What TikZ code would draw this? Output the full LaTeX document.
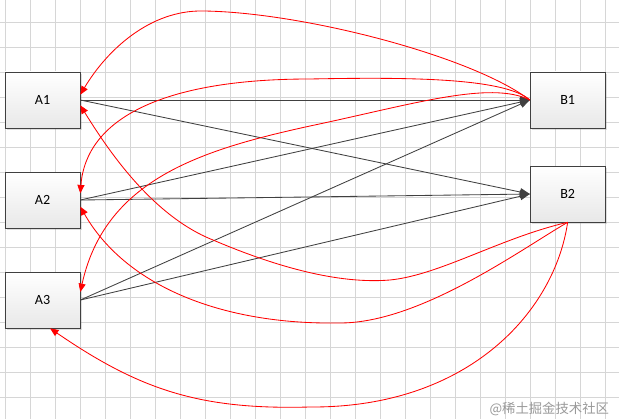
\documentclass[tikz,border=0pt]{standalone}
\usepackage{fontspec}
\setmainfont{Carlito}
\newfontfamily\cjkfont{Noto Sans CJK SC}
\usepackage{tikz}
\usetikzlibrary{arrows,arrows.meta,shapes,shadows}
\usetikzlibrary{positioning}
\definecolor{gridgray}{rgb}{0.84,0.84,0.84}
\definecolor{boxedge}{rgb}{0.25,0.25,0.25}
\tikzstyle{gridline}=[draw=gridgray,line width=0.6pt]
\tikzstyle{Abox}=[draw=boxedge,rectangle,minimum width=1.875cm,minimum height=1.4cm,inner sep=0,
                top color=white,bottom color=black!9,
                drop shadow={opacity=0.25,shadow xshift=1.5pt,shadow yshift=-1.5pt},
                font=\fontsize{10}{12}\selectfont]
\tikzstyle{aL}=[every edge/.style={draw=boxedge,line width=0.6pt,-{Triangle[length=7pt,width=5.5pt]}}]
\tikzstyle{back}=[draw=red,line width=0.6pt,-{Triangle[length=6pt,width=5pt]}]

\begin{document}
\begin{tikzpicture}[x=0.025cm,y=0.025cm,node distance=2.5cm]
\path[use as bounding box] (0,0) rectangle (619,-419);
\fill[white] (0,0) rectangle (619,-419);

% grid
\foreach \gx in {0,...,24} \draw[gridline] (5.7+25*\gx,0) -- (5.7+25*\gx,-419);
\foreach \gy in {0,...,16} \draw[gridline] (0,2.7-25*\gy) -- (619,2.7-25*\gy);

\node[Abox] (A1) at (42.5,-100) {A1};
\node[Abox,below of=A1] (A2) {A2};
\node[Abox,below of=A2] (A3) {A3};
\node[Abox,right of=A1,node distance=13.125cm] (B1) {B1};
\node[Abox,below of=B1,node distance=2.35cm] (B2) {B2};

\path[aL]
(A1.east) edge (B1.west) edge (B2.west)
(A2.east) edge (B1.west) edge (B2.west)
(A3.east) edge (B1.west) edge (B2.west)
;

\draw[back] (B1.west) .. controls (470,-55) and (300,-12) .. (203,-11)
  .. controls (150,-10) and (107,-50) .. (A1.8);
\draw[back] (B1.west) .. controls (505,-78) and (410,-77) .. (310,-79)
  .. controls (162,-79) and (86,-119) .. (A2.10);
\draw[back] (B1.west) .. controls (490,-80) and (410,-105) .. (310,-126)
  .. controls (200,-150) and (105,-180) .. (A3.12);

\draw[back] (B2.south) .. controls (500,-238) and (440,-275) .. (390,-280)
  .. controls (330,-285) and (260,-260) .. (213,-240)
  .. controls (150,-215) and (105,-145) .. (A1.352);
\draw[back] (B2.south) .. controls (520,-250) and (420,-323) .. (340,-323)
  .. controls (220,-325) and (125,-285) .. (A2.350);
\draw[back] (B2.south) .. controls (555,-310) and (470,-408) .. (310,-407)
  .. controls (200,-410) and (140,-390) .. (A3.285);

\node[font=\cjkfont\fontsize{9.5}{11}\selectfont,text=black!40,anchor=east] (mark) at (614,-409) {@稀土掘金技术社区};

\end{tikzpicture}
\end{document}
